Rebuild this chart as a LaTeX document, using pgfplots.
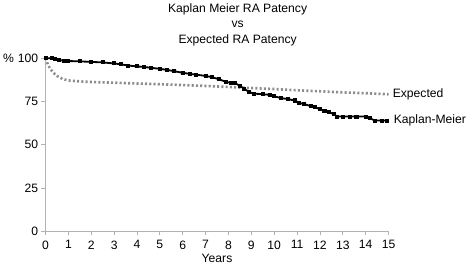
\documentclass[border=0pt,12pt]{standalone}
\usepackage{fontspec}
\setmainfont{Liberation Sans}
\usepackage{pgfplots}
\pgfplotsset{compat=1.18}
\begin{document}
\begin{tikzpicture}
\path (-45pt,-36pt) rectangle (0,0);
\begin{axis}[
  at={(0,0)}, anchor=origin,
  scale only axis,
  width=339pt, height=171pt,
  xmin=0, xmax=15, ymin=0, ymax=100,
  axis lines=left,
  axis line style={draw=black!30, line width=0.8pt, -},
  xtick={0,1,...,15},
  ytick={0,25,50,75,100},
  tick style={draw=black!30, line width=0.8pt},
  tick align=outside,
  major tick length=4pt,
  xticklabel style={yshift=-1pt},
  yticklabel style={xshift=1pt},
  /pgf/number format/assume math mode=true,
  xlabel={Years},
  xlabel style={yshift=3pt},
  clip=false,
]
\addplot[color=black!45, line width=2.6pt, line cap=butt, dash pattern=on 2pt off 2.2pt] coordinates {
(0,100) (0.1,96.5) (0.2,94) (0.35,91.5) (0.5,89.8) (0.75,88) (1,87.2) (1.5,86.6) (2,86.3) (3,85.9) (4,85.4) (5,85.0) (6,84.5) (7,84.0) (8,83.4) (9,82.8) (10,82.2) (11,81.5) (12,80.9) (13,80.3) (14,79.8) (15,79.2)
};
\addplot[color=black, line width=1.8pt, mark=square*, mark size=1.1pt] coordinates {
(0,100) (0.3,100) (0.4,99.5) (0.6,99) (0.8,98.6) (1.0,98.4) (1.5,98.2) (2.0,97.9) (2.5,97.6) (3.0,97.0) (3.3,96.5) (3.6,95.8) (4.0,95.3) (4.3,95.0) (4.6,94.5) (5.0,93.9) (5.3,93.3) (5.6,92.6) (6.0,91.6) (6.3,91.0) (6.6,90.5) (7.0,89.8) (7.3,89.0) (7.6,87.8) (7.9,86.3) (8.1,85.8) (8.3,85.6) (8.5,84) (8.7,82.3) (8.9,80.5) (9.1,79.6) (9.5,79.2) (9.8,78.9) (10.0,78.0) (10.3,77.0) (10.6,76.4) (10.9,75.6) (11.1,74.2) (11.3,73.5) (11.6,72.4) (11.8,71.6) (12.0,70.6) (12.2,69.7) (12.4,68.8) (12.6,67.8) (12.75,66.3) (13.0,66.3) (13.3,66.3) (13.6,66.3) (14.0,66.3) (14.2,65.3) (14.4,64.0) (14.7,64.0) (14.95,64.0)
};
\node[anchor=west, inner sep=0pt] at (axis cs:15,79.3) {\hspace{4pt}Expected};
\node[anchor=west, inner sep=0pt] at (axis cs:15,64) {\hspace{5pt}Kaplan-Meier};
\node[anchor=east, inner sep=0pt] at ([xshift=-31pt]rel axis cs:0,1) {\%};
\node[anchor=south, align=center, inner sep=0pt, font=\fontsize{12}{15.5}\selectfont] (T) at ([yshift=12pt]rel axis cs:0.56,1) {Kaplan Meier RA Patency\\vs\\Expected RA Patency};
\path (T.north) ++(0,3pt) coordinate (Ttop);
\path (Ttop) -- (T.north);
\end{axis}
\end{tikzpicture}
\end{document}
